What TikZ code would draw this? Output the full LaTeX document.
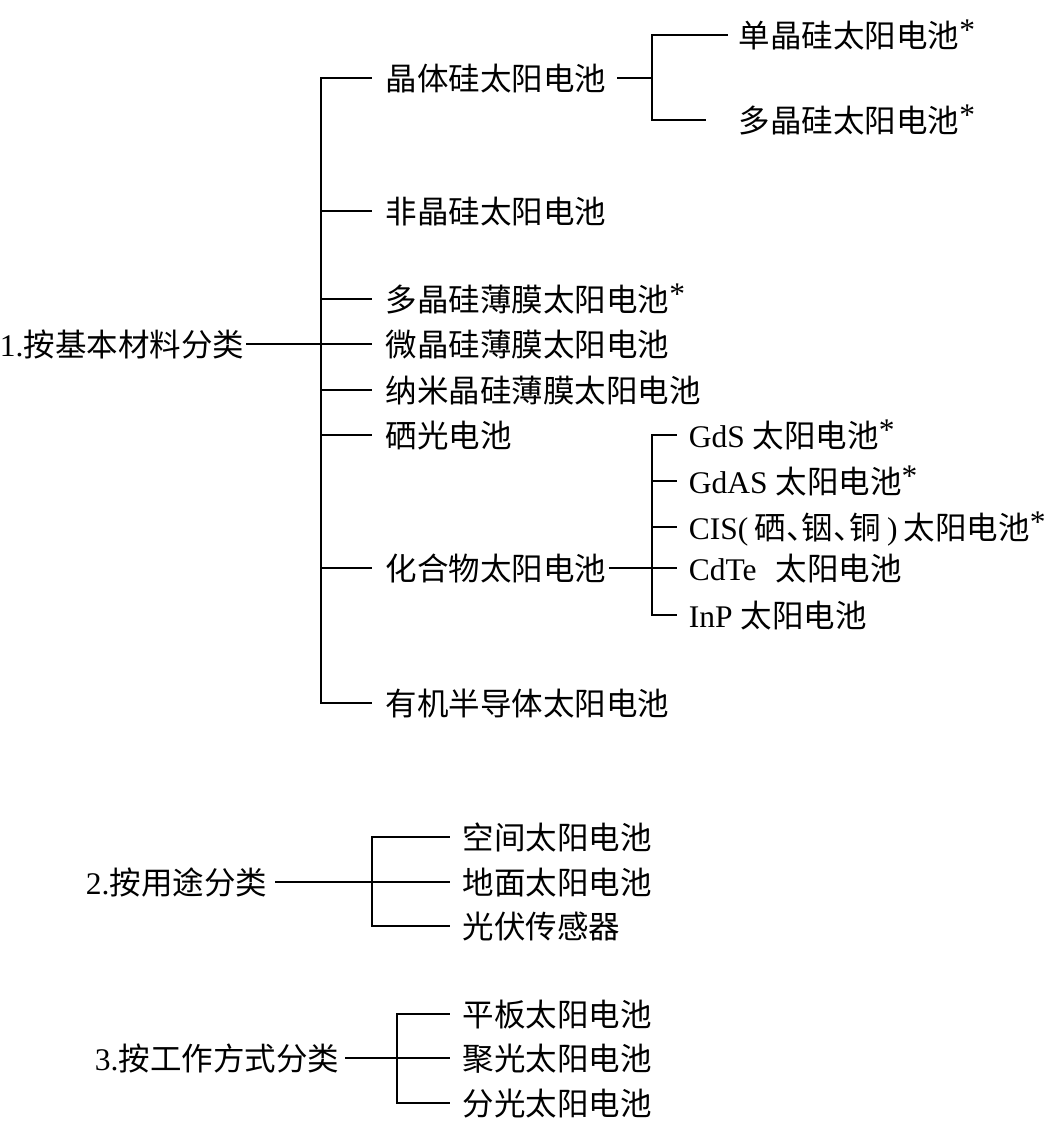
\documentclass[tikz,border=0pt]{standalone}
\usepackage{fontspec, tkz-euclide}
\setmainfont{Liberation Serif}
\newfontfamily\cjk{Noto Sans CJK SC}
\newcommand{\rl}[1]{{\rmfamily #1}}
\newcommand{\dun}{\makebox[0.5em][l]{、}}
\newcommand{\astk}{\rl{\raisebox{0.2em}{*}}}

\begin{document}
\begin{tikzpicture}[x=1pt, y=1pt, line width=1.8pt,
  lbl/.style={inner sep=0pt, text height=27pt, text depth=3pt,
    font=\cjk\fontsize{31.5}{36}\selectfont},
  item/.style={lbl, anchor=west},
  head/.style={lbl, anchor=east}]
\useasboundingbox (0,0) rectangle (1060,-1122);
% 1. by material
\tkzDefPoints{321/-78/P1, 321/-211/P2, 321/-299/P3, 321/-344/P4,
  321/-390/P5, 321/-435/P6, 321/-568/P7, 321/-703/P8}
\node[head] (r1) at (245,-344) {\rl{1.}按基本材料分类};
\node[item] (a1) at (385,-78) {晶体硅太阳电池};
\node[item] (a2) at (385,-211) {非晶硅太阳电池};
\node[item] (a3) at (385,-299) {多晶硅薄膜太阳电池\astk};
\node[item] (a4) at (385,-344) {微晶硅薄膜太阳电池};
\node[item] (a5) at (385,-390) {纳米晶硅薄膜太阳电池};
\node[item] (a6) at (385,-435) {硒光电池};
\node[item] (a7) at (385,-568) {化合物太阳电池};
\node[item] (a8) at (385,-703) {有机半导体太阳电池};
\tkzDrawSegment[line width=1.8pt, line cap=rect](P1,P8)
\foreach \i in {1,...,8}
  \draw[shorten >=13pt] (P\i) -- (a\i);
\draw[shorten <=1pt] (r1) -- (P4);
% crystalline silicon
\tkzDefPoints{652/-35/Q1, 652/-78/Q0, 652/-120/Q2}
\node[item] (b1) at (738,-35) {单晶硅太阳电池\astk};
\node[item] (b2) at (738,-120) {多晶硅太阳电池\astk};
\tkzDrawSegment[line width=1.8pt, line cap=rect](Q1,Q2)
\draw[shorten <=10pt] (a1) -- (Q0);
\draw[shorten >=10pt] (Q1) -- (b1);
\draw[shorten >=32pt] (Q2) -- (b2);
% compounds
\tkzDefPoints{652/-435/R1, 652/-481/R2, 652/-527/R3, 652/-568/R4, 652/-615/R5}
\node[item] (c1) at (688,-435) {\rl{GdS }太阳电池\astk};
\node[item] (c2) at (688,-481) {\rl{GdAS }太阳电池\astk};
\node[item] (c3) at (688,-527) {\rl{CIS(}\hspace{0.2em}硒\dun 铟\dun 铜\hspace{0.2em}\rl{)}\hspace{0.2em}太阳电池\astk};
\node[item] (c4) at (688,-568) {\rl{CdTe}\hspace{0.6em}太阳电池};
\node[item] (c5) at (688,-615) {\rl{InP }太阳电池};
\tkzDrawSegment[line width=1.8pt, line cap=rect](R1,R5)
\foreach \i in {1,...,5}
  \draw[shorten >=11pt] (R\i) -- (c\i);
\draw[shorten <=2pt] (a7) -- (R4);
% 2. by use
\tkzDefPoints{372/-837/S1, 372/-882/S2, 372/-926/S3}
\node[head] (r2) at (268,-882) {\rl{2.}按用途分类};
\node[item] (d1) at (462,-837) {空间太阳电池};
\node[item] (d2) at (462,-882) {地面太阳电池};
\node[item] (d3) at (462,-926) {光伏传感器};
\tkzDrawSegment[line width=1.8pt, line cap=rect](S1,S3)
\foreach \i in {1,2,3}
  \draw[shorten >=12pt] (S\i) -- (d\i);
\draw[shorten <=7pt] (r2) -- (S2);
% 3. by working mode
\tkzDefPoints{397/-1014/T1, 397/-1058/T2, 397/-1103/T3}
\node[head] (r3) at (340,-1058) {\rl{3.}按工作方式分类};
\node[item] (e1) at (462,-1014) {平板太阳电池};
\node[item] (e2) at (462,-1058) {聚光太阳电池};
\node[item] (e3) at (462,-1103) {分光太阳电池};
\tkzDrawSegment[line width=1.8pt, line cap=rect](T1,T3)
\foreach \i in {1,2,3}
  \draw[shorten >=12pt] (T\i) -- (e\i);
\draw[shorten <=5pt] (r3) -- (T2);
\end{tikzpicture}
\end{document}
